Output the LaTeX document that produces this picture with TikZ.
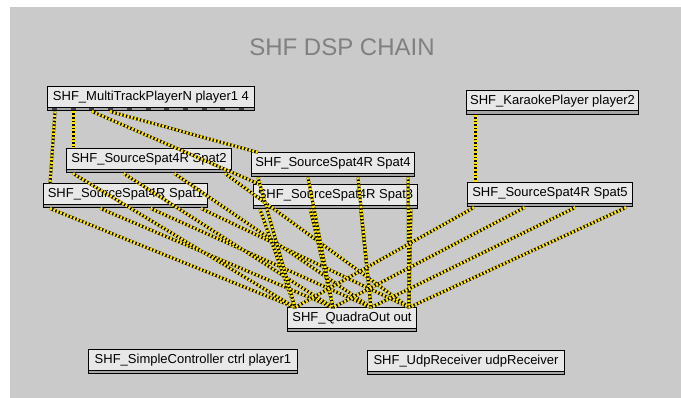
\documentclass[tikz,border=0pt]{standalone}
\usepackage{fontspec}
\setmainfont{Liberation Sans}
\usetikzlibrary{calc}
\definecolor{patchgray}{RGB}{202,202,202}
\definecolor{boxgray}{RGB}{232,232,232}
\definecolor{cordyellow}{RGB}{255,230,0}
\definecolor{titlegray}{RGB}{128,128,128}
\tikzset{
  objbox/.style={draw=black, line width=1pt, fill=boxgray, anchor=west,
    minimum height=24pt, inner xsep=0pt, inner ysep=0pt,
    font=\fontsize{13}{13}\selectfont, text height=8pt, text depth=4pt,
    path picture={\draw[line width=0.8pt, fill=black!35]
      ([yshift=4pt]path picture bounding box.south west) rectangle
      (path picture bounding box.south east);}},
  cord/.style={draw=black, line width=3pt,
    postaction={draw=cordyellow, line width=3pt, dash pattern=on 2pt off 1.6pt}}
}
\begin{document}
\begin{tikzpicture}[x=1pt, y=-1pt]
\useasboundingbox (0,0) rectangle (681,398);
\fill[white] (0,0) rectangle (681,398);
\fill[patchgray] (10,7) rectangle (681,398);
\node[font=\fontsize{24}{24}\selectfont, text=titlegray] (title) at (342,47) {SHF DSP CHAIN};
% objects
\node[objbox, minimum width=207pt] (multi) at (47,99) {SHF\_MultiTrackPlayerN player1 4};
\node[objbox, minimum width=172pt] (karaoke) at (466,102.5) {SHF\_KaraokePlayer player2};
\node[objbox, minimum width=165pt] (spatB) at (66,161) {SHF\_SourceSpat4R Spat2};
\node[objbox, minimum width=164pt] (spatA) at (43,196) {SHF\_SourceSpat4R Spat1};
\node[objbox, minimum width=163pt] (spatD) at (251,165) {SHF\_SourceSpat4R Spat4};
\node[objbox, minimum width=164pt] (spatC) at (253,197) {SHF\_SourceSpat4R Spat3};
\node[objbox, minimum width=165pt] (spatE) at (467,195) {SHF\_SourceSpat4R Spat5};
\node[objbox, minimum width=129pt] (quadra) at (287,320) {SHF\_QuadraOut out};
\node[objbox, minimum width=209pt] (ctrl) at (88,362) {SHF\_SimpleController ctrl player1};
\node[objbox, minimum width=197pt] (udp) at (367,363) {SHF\_UdpReceiver udpReceiver};
\draw[line width=2pt, black!75, dash pattern=on 5pt off 13.7pt]
  ([xshift=5pt, yshift=2pt]multi.south west) -- ([yshift=2pt]multi.south east);
% patch cords
\draw[cord] ([xshift=8pt]multi.south west) -- ([xshift=7pt]spatA.north west);
\draw[cord] ([xshift=26pt]multi.south west) -- ([xshift=7pt]spatB.north west);
\draw[cord] ([xshift=45pt]multi.south west) -- ([xshift=7pt]spatC.north west);
\draw[cord] ([xshift=63pt]multi.south west) -- ([xshift=7pt]spatD.north west);
\draw[cord] ([xshift=9pt]karaoke.south west) -- ([xshift=8pt]spatE.north west);
\foreach \s in {spatA,spatB,spatC,spatD,spatE}
  \foreach \i in {0,1,2,3}
    \draw[cord] ($([xshift=7pt]\s.south west)!\i/3!([xshift=-7pt]\s.south east)$)
      -- ($([xshift=8pt]quadra.north west)!\i/3!([xshift=-8pt]quadra.north east)$);
\end{tikzpicture}
\end{document}
